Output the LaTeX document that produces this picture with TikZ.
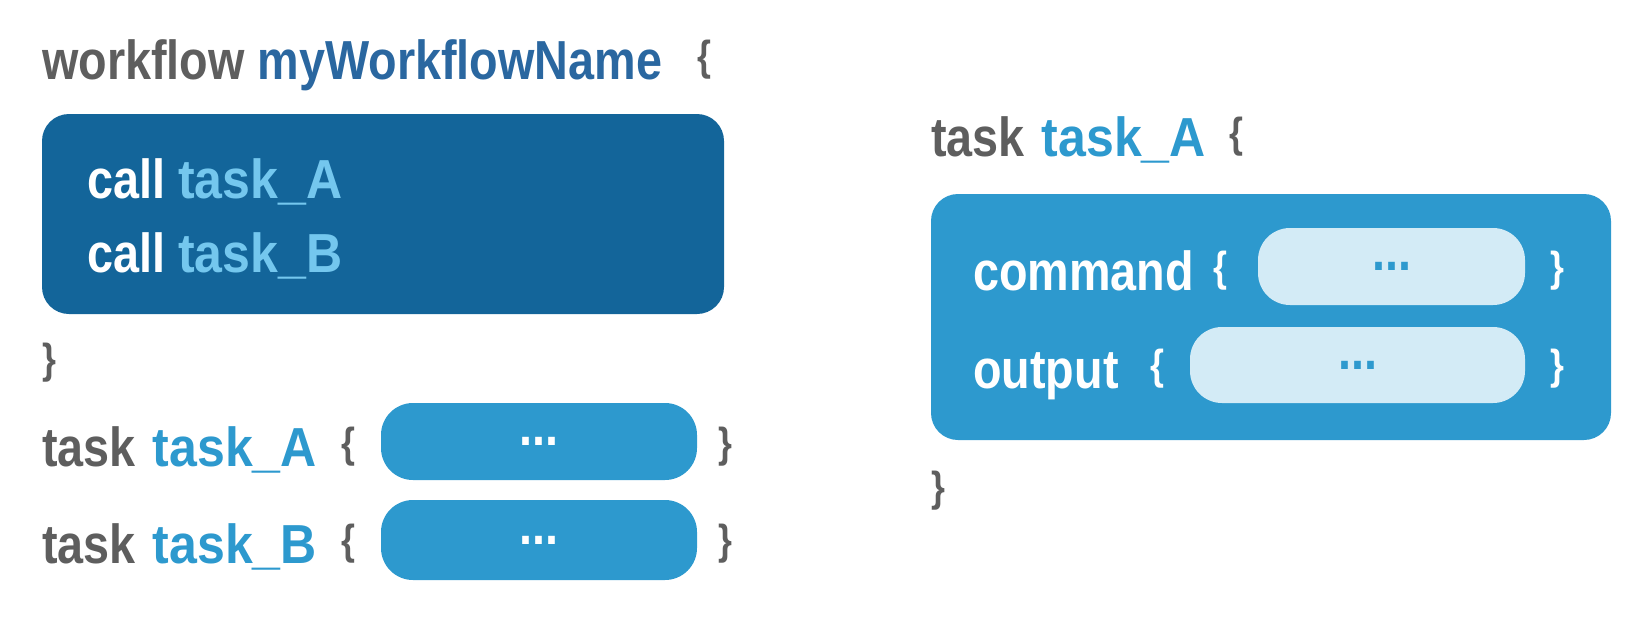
\documentclass[tikz,border=0pt]{standalone}
\usepackage{fontspec}
\newfontfamily\codefont[FakeStretch=0.85]{Liberation Sans}
\newfontfamily\namefont[FakeStretch=0.91]{Liberation Sans}
\definecolor{kwgrey}{HTML}{5E5E5E}
\definecolor{namedark}{HTML}{2A67A0}
\definecolor{boxdark}{HTML}{13659A}
\definecolor{midblue}{HTML}{2D99CE}
\definecolor{palename}{HTML}{74C7EE}
\definecolor{lightbox}{HTML}{D3EBF6}
\newcommand{\tname}[2]{\textcolor{#1}{\namefont\bfseries #2}}
\newcommand{\bracetxt}[1]{\raisebox{8.5pt}{\fontsize{42}{46}\selectfont #1}}
\tikzset{
  code/.style={anchor=base west, inner sep=0pt, font=\codefont\bfseries\fontsize{55}{60}\selectfont, text=kwgrey},
  brace/.style={code},
  darkpanel/.style={fill=boxdark, rounded corners=27pt},
  bluepanel/.style={fill=midblue, rounded corners=27pt},
  pill/.style={fill=midblue, rounded corners=32pt},
  lightpill/.style={fill=lightbox, rounded corners=32pt},
  dots/.style={inner sep=0pt, font=\codefont\bfseries\fontsize{55}{60}\selectfont},
}
\begin{document}
\begin{tikzpicture}[x=1pt,y=-1pt]
\useasboundingbox (0,0) rectangle (1649,619);
% ---------- left: workflow ----------
\node[code] (wf) at (42,79) {workflow \textcolor{namedark}{myWorkflowName}};
\node[brace] (wfopen) at (697,79) {\bracetxt{\{}};
\fill[darkpanel] (42,114) rectangle (724,314);
\node[code, text=white] (callA) at (87,198) {call \tname{palename}{task\_A}};
\node[code, text=white] (callB) at (87,272) {call \tname{palename}{task\_B}};
\node[brace] (wfclose) at (42,382) {\bracetxt{\}}};
% ---------- left: task_A / task_B ----------
\node[code] (tA) at (42,466) {task\hspace{4pt} \tname{midblue}{task\_A}};
\node[brace] (tAopen) at (341,466) {\bracetxt{\{}};
\fill[pill] (381,403) rectangle (697,480);
\node[dots, text=white] (tAdots) at (539,441.5) {...};
\node[brace] (tAclose) at (718,466) {\bracetxt{\}}};
\node[code] (tB) at (42,563) {task\hspace{4pt} \tname{midblue}{task\_B}};
\node[brace] (tBopen) at (341,563) {\bracetxt{\{}};
\fill[pill] (381,500) rectangle (697,580);
\node[dots, text=white] (tBdots) at (539,540) {...};
\node[brace] (tBclose) at (718,563) {\bracetxt{\}}};
% ---------- right: task_A detail ----------
\node[code] (rt) at (931,156) {task\hspace{4pt} \tname{midblue}{task\_A}};
\node[brace] (rtopen) at (1229,156) {\bracetxt{\{}};
\fill[bluepanel] (931,194) rectangle (1611,440);
\node[code, text=white] (cmd) at (973,290) {command};
\node[brace, text=white] (cmdopen) at (1213,290) {\bracetxt{\{}};
\fill[lightpill] (1258,228) rectangle (1525,305);
\node[dots, text=midblue] (cmddots) at (1391.5,266.5) {...};
\node[brace, text=white] (cmdclose) at (1550,290) {\bracetxt{\}}};
\node[code, text=white] (out) at (973,388) {output};
\node[brace, text=white] (outopen) at (1150,388) {\bracetxt{\{}};
\fill[lightpill] (1190,327) rectangle (1525,403);
\node[dots, text=midblue] (outdots) at (1357.5,365) {...};
\node[brace, text=white] (outclose) at (1550,388) {\bracetxt{\}}};
\node[brace] (rtclose) at (931,510) {\bracetxt{\}}};
\end{tikzpicture}
\end{document}
